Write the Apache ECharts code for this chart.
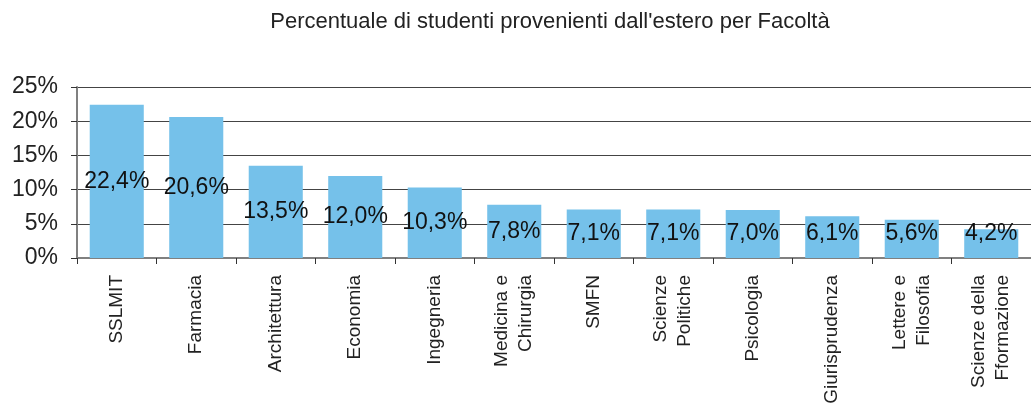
<!DOCTYPE html>
<html>
<head>
  <meta charset="utf-8">
  <title>Studenti dall'estero</title>
  <script src="https://cdn.jsdelivr.net/npm/echarts@6/dist/echarts.min.js"></script>
  <style>
    html, body { margin: 0; padding: 0; background: #fff; }
  </style>
</head>
<body>
  <div id="main" style="width:1031px;height:410px;"></div>
  <script type="text/javascript">
    // facoltà e percentuali
    var facolta = ['SSLMIT', 'Farmacia', 'Architettura', 'Economia', 'Ingegneria',
      'Medicina e\nChirurgia', 'SMFN', 'Scienze\nPolitiche', 'Psicologia',
      'Giurisprudenza', 'Lettere e\nFilosofia', 'Scienze della\nFformazione'];
    var percentuali = [22.4, 20.6, 13.5, 12.0, 10.3, 7.8, 7.1, 7.1, 7.0, 6.1, 5.6, 4.2];
    var yTicks = [0, 5, 10, 15, 20, 25];

    var font = '"Liberation Sans", Arial, sans-serif';
    var myChart = echarts.init(document.getElementById('main'));

    // come in Excel: se la barra è troppo bassa l'etichetta poggia sulla base
    var barData = percentuali.map(function (v) {
      if (v < 7.3) {
        return { value: v, label: { position: 'insideBottom', distance: 13 } };
      }
      return v;
    });

    var option = {
      animation: false,
      title: {
        text: "Percentuale di studenti provenienti dall'estero per Facoltà",
        left: 545,
        top: 6,
        textAlign: 'center',
        textStyle: { fontFamily: font, fontSize: 22, fontWeight: 'normal', color: '#222' }
      },
      grid: { left: 77, right: 0, top: 87, bottom: 152 },
      xAxis: {
        type: 'category',
        data: facolta,
        axisLine: { lineStyle: { color: '#808080', width: 2 } },
        axisTick: { show: true, length: 6, lineStyle: { color: '#333' } },
        axisLabel: {
          rotate: 90,
          margin: 17,
          interval: 0,
          fontFamily: font,
          fontSize: 19,
          color: '#222',
          lineHeight: 24
        }
      },
      yAxis: {
        type: 'value',
        min: yTicks[0],
        max: yTicks[yTicks.length - 1],
        interval: 5,
        axisLine: { show: true, lineStyle: { color: '#808080', width: 2 } },
        axisTick: { show: true, length: 6, lineStyle: { color: '#333' } },
        splitLine: { lineStyle: { color: '#444', width: 1 } },
        axisLabel: {
          formatter: function (v) { return v + '%'; },
          fontFamily: font,
          fontSize: 23,
          color: '#222',
          margin: 19
        }
      },
      series: [{
        type: 'bar',
        data: barData,
        barCategoryGap: '32%',
        itemStyle: { color: '#75C1EA' },
        label: {
          show: true,
          position: 'inside',
          formatter: function (p) { return p.value.toFixed(1).replace('.', ',') + '%'; },
          fontFamily: font,
          fontSize: 23,
          color: '#111'
        }
      }]
    };

    myChart.setOption(option);
  </script>
</body>
</html>
